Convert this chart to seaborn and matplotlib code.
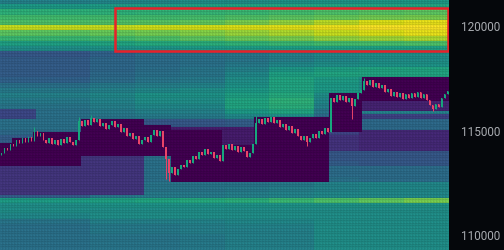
import numpy as np
import pandas as pd
import seaborn as sns
import matplotlib
matplotlib.use("Agg")
import matplotlib.pyplot as plt
from matplotlib.patches import Rectangle

# ---------------- data ----------------
P_TOP = 121250          # top price of heatmap
ROW = 250               # price per profile row
SUB = 2                 # sub-rows per profile row
SEG_W = 15              # heat columns per profile segment

# heat level per price row (top -> bottom), one value per column segment (10 segments)
heat_table = [
    [0.45, 0.45, 0.47, 0.48, 0.50, 0.50, 0.52, 0.53, 0.54, 0.55],
    [0.55, 0.55, 0.56, 0.57, 0.58, 0.59, 0.60, 0.60, 0.60, 0.60],
    [0.65, 0.65, 0.65, 0.66, 0.67, 0.68, 0.70, 0.72, 0.74, 0.75],
    [0.70, 0.70, 0.70, 0.70, 0.71, 0.73, 0.75, 0.77, 0.79, 0.80],
    [0.72, 0.72, 0.73, 0.74, 0.76, 0.80, 0.84, 0.90, 0.95, 0.97],
    [0.92, 0.92, 0.92, 0.93, 0.94, 0.95, 0.96, 0.98, 1.00, 1.00],
    [0.75, 0.75, 0.77, 0.79, 0.82, 0.85, 0.88, 0.92, 0.95, 0.97],
    [0.68, 0.68, 0.70, 0.72, 0.75, 0.78, 0.80, 0.84, 0.86, 0.88],
    [0.58, 0.58, 0.60, 0.62, 0.64, 0.66, 0.68, 0.70, 0.71, 0.72],
    [0.50, 0.50, 0.52, 0.53, 0.55, 0.56, 0.57, 0.58, 0.58, 0.58],
    [0.28, 0.28, 0.32, 0.36, 0.38, 0.40, 0.44, 0.48, 0.50, 0.50],
    [0.30, 0.30, 0.34, 0.36, 0.38, 0.40, 0.44, 0.48, 0.50, 0.50],
    [0.30, 0.30, 0.34, 0.36, 0.38, 0.42, 0.48, 0.50, 0.52, 0.52],
    [0.30, 0.30, 0.34, 0.37, 0.40, 0.45, 0.54, 0.58, 0.60, 0.60],
    [0.30, 0.30, 0.35, 0.38, 0.40, 0.48, 0.58, 0.60, 0.60, 0.60],
    [0.32, 0.32, 0.36, 0.40, 0.42, 0.50, 0.60, 0.56, 0.50, 0.50],
    [0.38, 0.38, 0.42, 0.44, 0.46, 0.52, 0.60, 0.55, 0.50, 0.50],
    [0.42, 0.42, 0.45, 0.48, 0.50, 0.55, 0.60, 0.55, 0.50, 0.50],
    [0.45, 0.45, 0.48, 0.52, 0.52, 0.58, 0.62, 0.50, 0.50, 0.50],
    [0.42, 0.42, 0.46, 0.50, 0.50, 0.60, 0.65, 0.48, 0.50, 0.50],
    [0.40, 0.40, 0.44, 0.48, 0.48, 0.60, 0.64, 0.45, 0.50, 0.50],
    [0.38, 0.38, 0.42, 0.45, 0.45, 0.55, 0.60, 0.40, 0.45, 0.45],
    [0.38, 0.38, 0.40, 0.42, 0.42, 0.48, 0.50, 0.35, 0.20, 0.20],
    [0.38, 0.38, 0.30, 0.28, 0.28, 0.30, 0.30, 0.35, 0.35, 0.35],
    [0.38, 0.38, 0.30, 0.28, 0.28, 0.30, 0.30, 0.35, 0.35, 0.35],
    [0.35, 0.35, 0.30, 0.28, 0.28, 0.30, 0.30, 0.20, 0.12, 0.12],
    [0.30, 0.30, 0.30, 0.28, 0.28, 0.30, 0.30, 0.15, 0.12, 0.12],
    [0.30, 0.30, 0.30, 0.28, 0.28, 0.30, 0.30, 0.15, 0.12, 0.12],
    [0.30, 0.30, 0.30, 0.28, 0.28, 0.30, 0.30, 0.15, 0.12, 0.12],
    [0.30, 0.30, 0.30, 0.30, 0.30, 0.30, 0.30, 0.28, 0.28, 0.28],
    [0.30, 0.30, 0.30, 0.32, 0.32, 0.32, 0.32, 0.28, 0.28, 0.28],
    [0.30, 0.30, 0.32, 0.34, 0.34, 0.34, 0.34, 0.30, 0.28, 0.28],
    [0.30, 0.30, 0.34, 0.36, 0.36, 0.36, 0.36, 0.36, 0.36, 0.36],
    [0.30, 0.30, 0.36, 0.38, 0.38, 0.38, 0.38, 0.36, 0.36, 0.36],
    [0.30, 0.30, 0.38, 0.38, 0.38, 0.38, 0.38, 0.38, 0.36, 0.36],
    [0.30, 0.30, 0.38, 0.40, 0.40, 0.40, 0.42, 0.46, 0.48, 0.48],
    [0.30, 0.30, 0.40, 0.40, 0.40, 0.42, 0.44, 0.46, 0.48, 0.48],
    [0.30, 0.30, 0.40, 0.42, 0.42, 0.44, 0.46, 0.48, 0.48, 0.48],
    [0.56, 0.57, 0.58, 0.60, 0.62, 0.64, 0.68, 0.72, 0.76, 0.80],
    [0.50, 0.50, 0.52, 0.52, 0.52, 0.52, 0.52, 0.52, 0.52, 0.52],
    [0.50, 0.50, 0.50, 0.50, 0.50, 0.50, 0.50, 0.50, 0.50, 0.50],
    [0.48, 0.48, 0.50, 0.50, 0.50, 0.50, 0.50, 0.50, 0.50, 0.50],
    [0.40, 0.40, 0.45, 0.45, 0.46, 0.48, 0.48, 0.50, 0.50, 0.50],
    [0.38, 0.38, 0.42, 0.42, 0.44, 0.46, 0.46, 0.50, 0.50, 0.50],
    [0.38, 0.38, 0.42, 0.42, 0.44, 0.45, 0.45, 0.50, 0.50, 0.50],
    [0.38, 0.38, 0.40, 0.40, 0.42, 0.45, 0.45, 0.50, 0.50, 0.50],
    [0.38, 0.38, 0.40, 0.40, 0.42, 0.45, 0.45, 0.50, 0.50, 0.50],
    [0.38, 0.38, 0.40, 0.40, 0.42, 0.45, 0.45, 0.50, 0.50, 0.50],
]

# swept (consumed) zones: column start, column end, top price, bottom price, level
zone_c0 = [0, 0, 4, 11, 0, 27, 27, 48, 48, 57, 57, 74, 74, 85, 110, 121, 121]
zone_c1 = [12, 4, 11, 27, 27, 48, 48, 57, 57, 74, 74, 85, 85, 110, 121, 150, 150]
zone_top = [116000, 114350, 114620, 114900, 113300, 115550, 113700, 115250, 113700,
            115150, 114950, 115150, 114300, 115650, 116750, 117450, 116350]
zone_bot = [115500, 113300, 113300, 113300, 111850, 113700, 111850, 113700, 112520,
            114950, 112520, 114300, 112520, 112520, 114900, 116350, 115850]
zone_val = [0.22, 0.0, 0.0, 0.0, 0.16, 0.0, 0.16, 0.0, 0.38,
            0.08, 0.0, 0.08, 0.0, 0.0, 0.0, 0.0, 0.1]

# candle closes (one per heat column)
closes = [113905, 114143, 114048, 114333, 114238, 114524, 114381, 114619, 114428, 114667,
          114476, 114952, 114714, 114857, 114524, 114381, 114619, 114333, 114524, 114285,
          114571, 114381, 114667, 114428, 114285, 114524, 115428, 115190, 115476, 115238,
          115571, 115381, 115524, 115190, 115333, 115048, 115238, 115428, 115143, 115286,
          114905, 115095, 114714, 114857, 114571, 114714, 114333, 114524, 114667, 114428,
          114762, 115000, 114714, 114952, 114190, 113619, 112952, 113238, 112857, 113143,
          113333, 113238, 113571, 113428, 113762, 113619, 113952, 113810, 114095, 113857,
          113952, 113667, 113810, 113524, 114285, 114095, 114333, 114048, 114238, 113952,
          114190, 114000, 113714, 113905, 114333, 115333, 115524, 115286, 115571, 115381,
          115619, 115333, 115476, 115143, 115286, 115000, 115190, 114857, 115048, 114714,
          114524, 114714, 114428, 114619, 114810, 114619, 114952, 114810, 115095, 114905,
          116524, 116333, 116667, 116428, 116619, 116333, 116524, 116143, 116476, 116762,
          116905, 117333, 117143, 117381, 117048, 117238, 117000, 117143, 116810, 116952,
          116619, 116810, 116571, 116762, 116476, 116714, 116524, 116762, 116571, 116810,
          116524, 116714, 116428, 116190, 116000, 116238, 116095, 116524, 116714, 116857]
first_open = 113800
long_wick_idx = [11, 26, 30, 55, 56, 85, 102, 117, 121, 144]
long_wick_px = [115143, 115619, 115714, 112667, 112571, 115667, 114238, 115524, 117476, 115905]

tick_prices = [110000, 115000, 120000]
tick_labels = ["110000", "115000", "120000"]
box_cols = [38.3, 149.6]
box_prices = [120834, 118750]

# ---------------- build heat table ----------------
tbl = np.array(heat_table)
n_rows = tbl.shape[0] * SUB
n_cols = tbl.shape[1] * SEG_W
Z = np.repeat(np.repeat(tbl, SUB, axis=0), SEG_W, axis=1)
fine = ROW / SUB
row_center = P_TOP - (np.arange(n_rows) + 0.5) * fine
for c0, c1, t, b, v in zip(zone_c0, zone_c1, zone_top, zone_bot, zone_val):
    mask = (row_center <= t) & (row_center >= b)
    Z[mask, c0:c1] = v

heat = pd.DataFrame(Z)

def py(p):
    return (P_TOP - np.asarray(p, dtype=float)) / fine

# ---------------- draw ----------------
BG = "#05070b"
fig = plt.figure(figsize=(5.04, 2.51), dpi=100, facecolor=BG)
ax = fig.add_axes([0, 0, 449 / 504, 1])
sns.heatmap(heat, cmap="viridis", vmin=0, vmax=1, cbar=False, ax=ax,
            xticklabels=False, yticklabels=False,
            linewidths=0.2, linecolor=(0.0, 0.0, 0.0, 0.05))

opens = [first_open] + closes[:-1]
o = np.array(opens, float)
c = np.array(closes, float)
hi = np.maximum(o, c)
lo = np.minimum(o, c)
xs = np.arange(len(closes)) + 0.5
up = c >= o
col_up, col_dn = "#17a77d", "#ea4468"
colors = np.where(up, col_up, col_dn)
hi_px = hi.copy(); lo_px = lo.copy()
for i, p in zip(long_wick_idx, long_wick_px):
    if p > hi[i]:
        hi_px[i] = p
    else:
        lo_px[i] = p
ax.vlines(xs, py(hi_px), py(lo_px), colors=colors, linewidth=0.7)
body_h = np.maximum(py(lo) - py(hi), 0.4)
ax.bar(xs, body_h, bottom=py(hi), width=0.6, color=colors, linewidth=0)

ax.add_patch(Rectangle((box_cols[0], py(box_prices[0])), box_cols[1] - box_cols[0],
                       py(box_prices[1]) - py(box_prices[0]),
                       fill=False, edgecolor="#e8202a", linewidth=1.8))

ax.set_xlim(0, n_cols)
ax.set_ylim(n_rows, 0)
ax.yaxis.tick_right()
ax.set_yticks(py(tick_prices))
ax.set_yticklabels(tick_labels, family=["Roboto", "DejaVu Sans"], fontsize=8.5, color="#a8abb0")
ax.tick_params(axis="y", length=0, pad=9)
ax.set_xticks([])
for s in ax.spines.values():
    s.set_visible(False)

fig.savefig("out.png", dpi=100, facecolor=BG)
